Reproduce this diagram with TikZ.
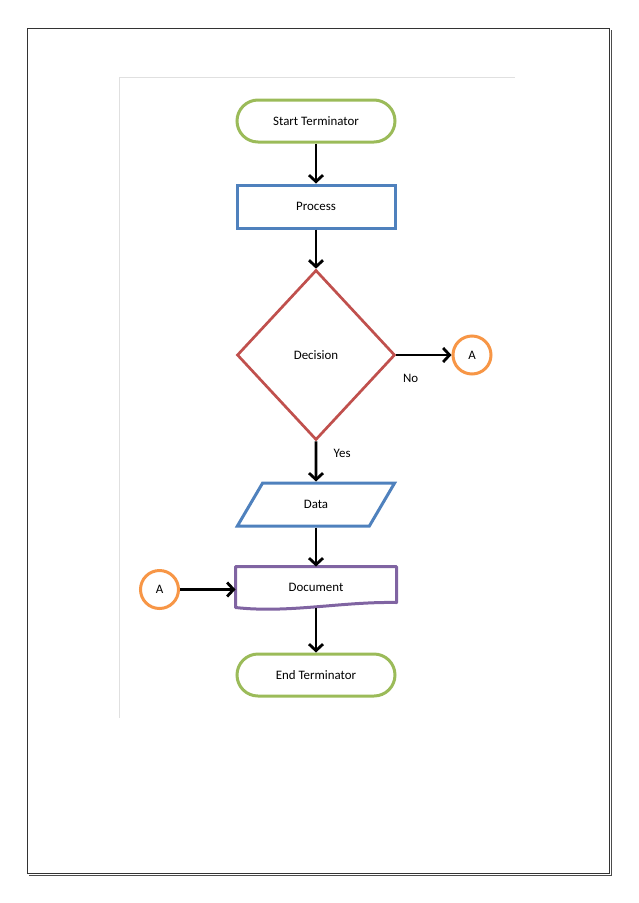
\documentclass[tikz,border=0pt]{standalone}
\usepackage{fontspec}
\setmainfont{Carlito}
\usepackage{tikz}
\usetikzlibrary{shapes.geometric,arrows.meta,positioning}
\definecolor{termgreen}{RGB}{155,187,89}
\definecolor{procblue}{RGB}{79,129,189}
\definecolor{decred}{RGB}{192,80,77}
\definecolor{connorange}{RGB}{247,150,70}
\definecolor{docpurple}{RGB}{128,100,162}
\tikzstyle{terminator} = [rectangle, rounded corners=21pt, minimum width=158pt, minimum height=42pt, draw=termgreen, line width=3pt]
\tikzstyle{process} = [rectangle, minimum width=158pt, minimum height=43pt, draw=procblue, line width=3pt]
\tikzstyle{decision} = [diamond, minimum width=158pt, minimum height=170pt, inner sep=0pt, draw=decred, line width=2.7pt]
\tikzstyle{datain} = [trapezium, trapezium left angle=64, trapezium right angle=116, trapezium stretches=true, minimum width=158pt, minimum height=43pt, draw=procblue, line width=3pt]
\tikzstyle{docbox} = [rectangle, minimum width=158pt, minimum height=38pt, outer sep=1.5pt]
\tikzstyle{connector} = [circle, minimum size=38pt, inner sep=0pt, draw=connorange, line width=3pt]
\tikzstyle{arrow} = [line width=2.8pt, -{Straight Barb[length=6.5pt,width=14pt]}]
\tikzstyle{pageline} = [black!80, line width=1.6pt]

\begin{document}
\begin{tikzpicture}[x=1pt, y=1pt, node distance=86pt, font=\fontsize{12.9}{15}\selectfont]
\useasboundingbox (0,0) rectangle (638,-903);
% page frame and faint sheet edge
\draw[pageline] (27.5,-28.5) rectangle (609.5,-873.5);
\draw[black!70, line width=0.9pt] (29,-875.5) -- (611.5,-875.5) -- (611.5,-30);
\draw[black!12, line width=0.7pt] (119.5,-718) -- (119.5,-77.5) -- (515,-77.5);

\node (start) [terminator] at (316,-121) {Start Terminator};
\node (proc) [process, below of=start, yshift=0.5pt] {Process};
\node (dec) [decision, below of=proc, yshift=-62.5pt] {Decision};
\node (conA) [connector, right of=dec, xshift=70pt] {A};
\node (data) [datain, below of=dec, yshift=-63.5pt] {Data};
\node (doc) [docbox, below of=data, yshift=3.5pt] {Document};
\node (conB) [connector, left of=doc, xshift=-70.5pt, yshift=-2.5pt] {A};
\node (endt) [terminator, below of=doc, yshift=-2pt] {End Terminator};

% wavy document outline
\draw[docpurple, line width=3pt, line join=round] (doc.north west) -- (doc.north east) -- ([yshift=5pt]doc.south east)
  .. controls ([xshift=-55pt,yshift=6pt]doc.south east) and ([xshift=53pt,yshift=-6pt]doc.south west) .. (doc.south west) -- cycle;

\draw[arrow] (start) -- (proc);
\draw[arrow] (proc) -- (dec);
\draw[arrow] (dec.east) -- (conA) node (nolbl) [pos=0.26, below, yshift=-14pt] {No};
\draw[arrow] (dec.south) -- (data) node (yeslbl) [pos=0.3, right, xshift=13pt] {Yes};
\draw[arrow] (data) -- (doc);
\draw[arrow] (conB) -- (conB -| doc.west);
\draw[arrow] (doc) -- (endt);
\end{tikzpicture}
\end{document}
